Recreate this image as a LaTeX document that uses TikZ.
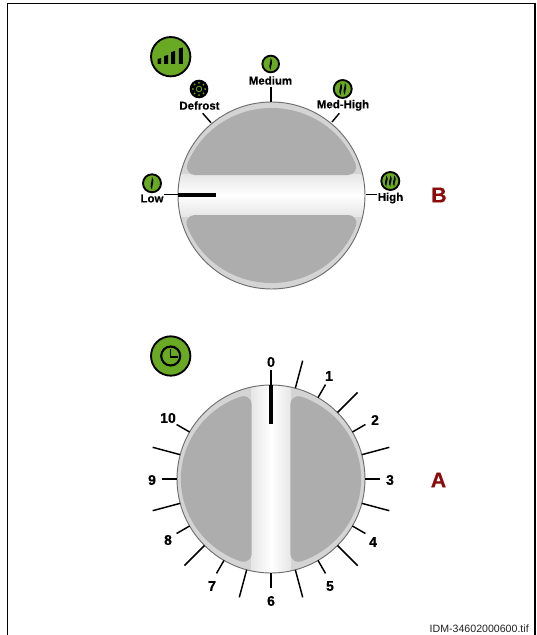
\documentclass[tikz,border=0pt]{standalone}
\usepackage{fontspec}
\usetikzlibrary{calc}
\setmainfont{Liberation Sans}[BoldFeatures={FakeBold=0.5}]
\definecolor{iconG}{HTML}{6AA924}
\definecolor{ringG}{HTML}{D4D4D4}
\definecolor{bandG}{HTML}{E6E6E6}
\definecolor{edgeG}{HTML}{6E6E6E}
\definecolor{padG}{HTML}{ADADAD}
\definecolor{markR}{HTML}{8B0A0A}
\definecolor{capG}{HTML}{222222}
\tikzset{
  lab/.style={inner sep=0pt,font=\bfseries\fontsize{8.6}{10}\selectfont},
  num/.style={inner sep=0pt,font=\bfseries\fontsize{10.5}{12}\selectfont},
  letterR/.style={inner sep=0pt,text=markR,font=\bfseries\fontsize{16}{18}\selectfont},
  tickline/.style={black,line width=1.1pt},
  pointer/.style={black,line width=3pt},
  icon/.style={fill=iconG,draw=black,line width=1.4pt},
  padfill/.style={fill=padG,draw=none},
}
% #1 centre, #2 rotation, #3 half band width, #4 horizontal stretch
\newcommand\padshape[4]{%
  \begin{scope}[shift={(#1)},xscale=#4,rotate=#2]
    \pgfmathsetmacro\Rr{87.5}\pgfmathsetmacro\rr{8}
    \pgfmathsetmacro\yc{#3+\rr}
    \pgfmathsetmacro\xc{sqrt((\Rr-\rr)*(\Rr-\rr)-\yc*\yc)}
    \pgfmathsetmacro\th{-atan2(\yc,\xc)}
    \pgfmathsetmacro\thb{-180-\th}
    \fill[padfill] (\xc,-#3) arc[start angle=90,end angle=\th,radius=\rr]
      arc[start angle=\th,end angle=\thb,radius=\Rr]
      arc[start angle=\thb,end angle=-270,radius=\rr] -- cycle;
  \end{scope}}
\newcommand\flame[3]{% x, y, half height
  \fill[black] (#1,#2-#3) .. controls (#1+3.2,#2-#3*.35) and (#1-.2,#2+#3*.2) .. (#1,#2+#3)
    .. controls (#1-3.2,#2+#3*.35) and (#1+.2,#2-#3*.2) .. (#1,#2-#3) -- cycle;}
\begin{document}
\begin{tikzpicture}[x=.75pt,y=-.75pt]
\useasboundingbox (0,0) rectangle (536,635);
\fill[white] (0,0) rectangle (536,635);
\draw[black,line width=1.1pt] (7.3,635) -- (7.3,3.5) -- (535,3.5) -- (535,635);

\coordinate (B) at (271.5,195.5);
\coordinate (A) at (271,479);

% ---------- upper dial
\fill[ringG] (B) circle[radius=93.5];
\begin{scope}
  \clip (B) circle[radius=93.5];
  \shade[top color=bandG,bottom color=bandG,middle color=white]
    (170,174) rectangle (370,216);
\end{scope}
\draw[edgeG,line width=.7pt] (B) circle[radius=93.5];
\padshape{B}{0}{20.5}{1.03}
\padshape{B}{180}{19.5}{1.03}

% ---------- lower dial
\fill[ringG] (A) circle[radius=94];
\begin{scope}
  \clip (A) circle[radius=94];
  \shade[left color=bandG,right color=bandG,middle color=white]
    (251,380) rectangle (291,580);
\end{scope}
\draw[edgeG,line width=.7pt] (A) circle[radius=94];
\padshape{A}{90}{18.75}{1.03}
\padshape{A}{270}{18.75}{1.03}

% ---------- upper ticks
\draw[tickline] (271,87.3) -- (271,102);
\draw[tickline] (202.7,113.3) -- (211,122.7);
\draw[tickline] (339.3,113.3) -- (332,122);
\draw[tickline] (164.3,194.7) -- (178,194.7);
\draw[tickline] (365.7,194.7) -- (376.7,194.7);
\draw[pointer] (178,194.7) -- (216,194.7);

% ---------- lower ticks
\foreach \a in {-75,-45,-15,15,45,75,105,135,165,195}
  \draw[tickline] ($(A)+(\a:94)$) -- ($(A)+(\a:122.5)$);
\foreach \a in {-60,-30,0,30,60,90,120,150,180,210}
  \draw[tickline] ($(A)+(\a:94)$) -- ($(A)+(\a:109)$);
\draw[tickline] (271,370) -- (271,385);
\draw[pointer] (271,385) -- (271,423.5);

% ---------- big icons
\node[icon,circle,minimum size=29.5pt,inner sep=0pt] (bigheat) at (170.7,56.7) {};
\fill[black] (157.5,64) -- (157.5,59) -- (161,58) -- (161,64) -- cycle
  (164,64) -- (164,56) -- (168,55) -- (168,64) -- cycle
  (171,64) -- (171,52) -- (175,51) -- (175,64) -- cycle
  (178.8,64) -- (178.8,48.5) -- (182.8,47.5) -- (182.8,64) -- cycle;
\node[icon,circle,minimum size=29.5pt,inner sep=0pt] (bigclock) at (170.7,356) {};
\draw[black,line width=1.6pt] (bigclock.center) circle[radius=9.5];
\draw[black,line width=1.3pt] (170.5,349) -- (170.5,356.7) -- (177.5,356.7);

% ---------- small icons
\node[icon,circle,minimum size=12.5pt,inner sep=0pt] (iconmed) at (270.7,64) {};
\flame{270.7}{64}{6}
\node[icon,circle,minimum size=13.5pt,inner sep=0pt] (iconlow) at (152,183.3) {};
\flame{152}{183.3}{6.5}
\node[icon,circle,minimum size=13.5pt,inner sep=0pt] (iconmh) at (342.7,89) {};
\flame{340.7}{89}{6}
\flame{344.9}{89}{6}
\node[icon,circle,minimum size=13.5pt,inner sep=0pt] (iconhigh) at (390.3,181) {};
\flame{386.3}{181}{5.5}
\flame{390.3}{181}{5.5}
\flame{394.3}{181}{5.5}
\node[circle,fill=black,minimum size=14pt,inner sep=0pt] (icondef) at (199,89) {};
\foreach \a in {0,45,...,315}
  \fill[iconG] ($(icondef)+(\a:6.2)$) circle[radius=1];
\draw[iconG,line width=.6pt] (icondef) circle[radius=2.8];

% ---------- labels
\node[lab] (lmed) at (270.5,80.5) {Medium};
\node[lab] (ldef) at (199.5,105.5) {Defrost};
\node[lab] (lmh) at (343,105.3) {Med-High};
\node[lab] (llow) at (152,198.5) {Low};
\node[lab] (lhigh) at (390.5,198) {High};
\node[letterR] (mB) at (439,195) {B};
\node[letterR] (mA) at (438.5,480) {A};
\node[num] (n0) at (271,362) {0};
\node[num] (n1) at (329,376) {1};
\node[num] (n2) at (375,420) {2};
\node[num] (n3) at (390,480) {3};
\node[num] (n4) at (373,542) {4};
\node[num] (n5) at (330,586) {5};
\node[num] (n6) at (271,601) {6};
\node[num] (n7) at (212,586) {7};
\node[num] (n8) at (168,540) {8};
\node[num] (n9) at (152,480) {9};
\node[num] (n10) at (168,418) {10};
\node[inner sep=0pt,text=capG,font=\fontsize{7.95}{10}\selectfont,anchor=east] (cap) at (529,629) {IDM-34602000600.tif};
\end{tikzpicture}
\end{document}
